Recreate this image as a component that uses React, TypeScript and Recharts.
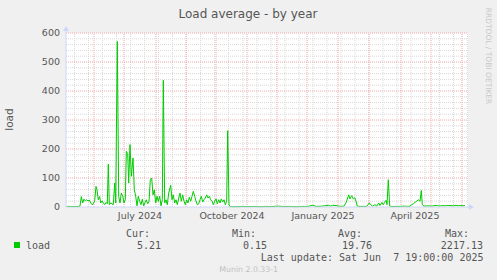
import { LineChart, Line, XAxis, YAxis, ReferenceLine, CartesianGrid } from 'recharts'

// x is "days since the left edge of the graph" (about 1px per day)
const days = [
  0.5, 4, 8, 12, 14, 15.3, 16.7, 18, 19.3, 20.7, 22, 23.3, 24.7, 26, 27.3, 28.7, 30, 31, 32.3, 33.7,
  34.7, 36, 37.3, 38.7, 40, 41.3, 42.3, 43.3, 44.7, 46, 47.3, 48.7, 49.7, 51.3, 52.7, 54, 55.3, 56.7,
  58, 59.3, 60.3, 61.7, 62.7, 64, 65.3, 67, 68.3, 69.7, 71, 72.3, 73.7, 75, 76.3, 77.7, 79, 80.3,
  81.7, 83, 84.3, 85.7, 87, 88.3, 89.7, 91, 92.3, 93.7, 95, 96.3, 97.3, 98.7, 100, 101.3, 102.7,
  104.7, 106, 107.3, 108.7, 110, 111.3, 112.7, 114, 115.3, 116.7, 118, 119.3, 120.7, 122, 123.3,
  124.7, 126, 127.3, 128.7, 130, 131.3, 132.7, 134, 135.3, 136.7, 138, 139.3, 140.7, 142, 143.3,
  144.7, 146, 147.3, 148.7, 150, 151.3, 152.7, 154, 155.3, 156.7, 158, 159.3, 160.7, 161.7, 163,
  164, 170, 176, 182, 188, 194, 200, 206, 212, 218, 224, 230, 236, 242, 246.7, 250, 256, 262.7,
  264.7, 266.7, 270, 274, 278, 280, 282.7, 284, 285.7, 287.3, 288.7, 290, 291.3, 294, 298, 300.7,
  303.3, 304.7, 306.7, 309, 310.7, 312.7, 314, 316, 317.3, 318.7, 320, 321, 322.3, 323.7, 326, 330,
  334, 338, 342, 344, 345.7, 347.3, 349, 350.7, 352.3, 354, 355.3, 356.3, 358, 362, 366, 369, 371.3,
  374, 375.7, 378, 380.7, 384, 387.3, 390, 392, 394, 397, 399,
]
const loadValues = [
  2, 2, 1.5, 2, 3, 36, 14, 27, 21, 25, 21, 24, 14, 8, 11, 22, 71, 59, 25, 36,
  14, 21, 14, 8, 16, 11, 148, 8, 14, 11, 8, 83, 14, 571, 36, 14, 48, 39,
  14, 25, 192, 184, 83, 215, 106, 169, 60, 37, 4, 37, 19, 8, 27, 4, 14, 25,
  11, 19, 94, 100, 42, 59, 14, 37, 19, 37, 4, 25, 437, 14, 25, 8, 48,
  75, 25, 42, 14, 25, 8, 31, 48, 20, 42, 20, 8, 25, 14, 34,
  20, 37, 54, 37, 20, 8, 11, 25, 37, 17, 25, 31, 42, 31, 37,
  25, 20, 8, 20, 28, 11, 25, 14, 28, 17, 25, 8, 20, 263, 8,
  1.5, 1, 2, 1.5, 2, 1, 2, 1.5, 3, 1.5, 2, 1, 2, 2, 6, 2, 3, 6,
  3, 6, 5, 2, 3, 14, 42, 28, 39, 28, 32, 20, 3, 2, 2, 2,
  14, 8, 3, 8, 3, 14, 5, 16, 8, 16, 23, 8, 94, 3, 1.5, 2,
  2, 3, 2, 3, 8, 11, 16, 20, 25, 20, 57, 8, 3, 4, 3, 5, 5,
  3, 5, 4, 5, 5, 4, 6, 4, 5, 4, 5.21,
]

const monthLines = [28, 58, 90, 120, 150, 181, 211, 241, 272, 303, 335, 365, 396]
const fortnightLines = [
  8.5, 22.5, 36.5, 50.5, 64.5, 78.5, 92.5, 106.5, 120.5, 134.5, 148.5, 162.5, 177, 191, 205,
  219, 233, 247, 261, 275, 289, 303, 317, 331, 345, 359, 373.5, 387.5, 401.5,
]
const labelDays = [74, 166, 257, 349]
const labelNames = ['July 2024', 'October 2024', 'January 2025', 'April 2025']

const yTicks = [0, 100, 200, 300, 400, 500, 600]
const yMinor = [20, 40, 60, 80, 120, 140, 160, 180, 220, 240, 260, 280, 320, 340, 360, 380, 420, 440, 460, 480, 520, 540, 560, 580]

const statLabels = ['Cur:', 'Min:', 'Avg:', 'Max:']
const statValues = ['5.21', '0.15', '19.76', '2217.13']

const FONT = '"DejaVu Sans", sans-serif'
const MONO = '"DejaVu Sans Mono", monospace'
const TEXT = '#555'
const AXIS = '#CFD6F8'
const MINOR = '#d8d8d8'
const MAJOR = '#f2a8a8'

const data = days.map((d, i) => ({ day: d, load: loadValues[i] }))

export default function App() {
  const labelRight = [150, 256, 362, 469]
  const valueRight = [161, 267, 372, 483]
  return (
    <div style={{ position: 'absolute', left: 0, top: 0, width: 497, height: 280, background: '#F0F0F0' }}>
      <LineChart width={497} height={280} data={data} margin={{ top: 33, right: 29, bottom: 53, left: 30 }}>
        <CartesianGrid horizontal={false} vertical={false} fill="#fff" stroke="none" />
        {yMinor.map(v => (
          <ReferenceLine key={'ym' + v} y={v} stroke={MINOR} strokeDasharray="1 1" />
        ))}
        {fortnightLines.map(v => (
          <ReferenceLine key={'xm' + v} x={v} stroke={MINOR} strokeDasharray="1 1" />
        ))}
        {yTicks.slice(1).map(v => (
          <ReferenceLine key={'yM' + v} y={v} stroke={MAJOR} strokeDasharray="1 1" />
        ))}
        {monthLines.map(v => (
          <ReferenceLine key={'xM' + v} x={v} stroke={MAJOR} strokeDasharray="1 1" />
        ))}
        <XAxis
          dataKey="day"
          type="number"
          domain={[0, 402]}
          ticks={labelDays}
          tickFormatter={(v: number) => labelNames[labelDays.indexOf(v)] ?? ''}
          tick={{ fill: TEXT, fontSize: 9.5, fontFamily: FONT }}
          tickLine={false}
          tickSize={3}
          tickMargin={2}
          axisLine={{ stroke: AXIS }}
          height={20}
        />
        <YAxis
          domain={[0, 600]}
          ticks={yTicks}
          tick={{ fill: TEXT, fontSize: 9.5, fontFamily: FONT }}
          tickLine={false}
          tickSize={4}
          tickMargin={2}
          axisLine={{ stroke: AXIS }}
          width={36}
        />
        <Line dataKey="load" stroke="#00CC00" strokeWidth={1} dot={false} isAnimationActive={false} />
      </LineChart>
      <svg width={497} height={280} style={{ position: 'absolute', left: 0, top: 0, pointerEvents: 'none' }}>
        {/* axis arrows */}
        <line x1={66} y1={33} x2={66} y2={29} stroke={AXIS} />
        <polygon points="63,31 69,31 66,26" fill={AXIS} />
        <line x1={468} y1={207} x2={471} y2={207} stroke={AXIS} />
        <polygon points="469,204 469,210 474,207" fill={AXIS} />

        <text x={248} y={18} textAnchor="middle" fontFamily={FONT} fontSize={12} fill={TEXT}>
          Load average - by year
        </text>
        <text x={13} y={119.5} textAnchor="middle" fontFamily={FONT} fontSize={10.5} fill={TEXT} transform="rotate(-90 13 119.5)">
          load
        </text>
        <text x={486} y={56} textAnchor="middle" fontFamily={FONT} fontSize={7.5} fill="#c8c8c8" transform="rotate(90 486 56)">
          RRDTOOL / TOBI OETIKER
        </text>

        <rect x={14} y={242} width={6} height={6} fill="#00CC00" />
        <text x={26} y={249} fontFamily={MONO} fontSize={10} fill={TEXT}>load</text>
        {statLabels.map((s, i) => (
          <text key={s} x={labelRight[i]} y={237.3} textAnchor="end" fontFamily={MONO} fontSize={10} fill={TEXT}>{s}</text>
        ))}
        {statValues.map((s, i) => (
          <text key={s} x={valueRight[i]} y={249} textAnchor="end" fontFamily={MONO} fontSize={10} fill={TEXT}>{s}</text>
        ))}
        <text x={483.5} y={260.5} textAnchor="end" fontFamily={MONO} fontSize={10} fill={TEXT} style={{ whiteSpace: 'pre' }}>
          {'Last update: Sat Jun  7 19:00:00 2025'}
        </text>
        <text x={248.7} y={272} textAnchor="middle" fontFamily={FONT} fontSize={7.8} fill="#c0c0c0">
          Munin 2.0.33-1
        </text>
      </svg>
    </div>
  )
}
